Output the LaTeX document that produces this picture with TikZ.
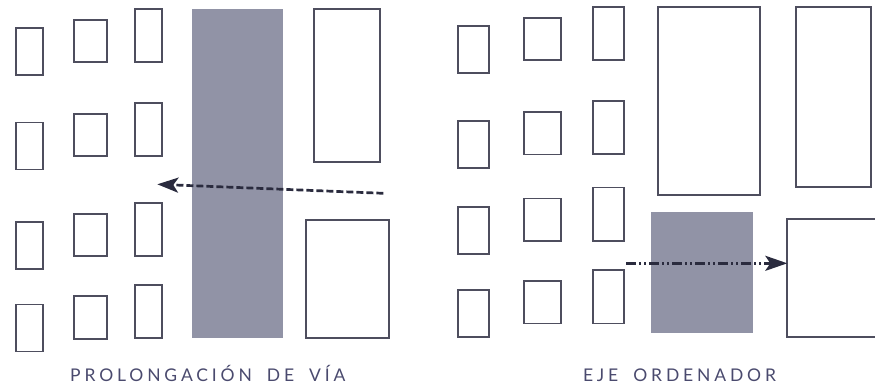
\documentclass[tikz,border=0pt]{standalone}
\usepackage{fontspec}
\newfontfamily\rotulofont[LetterSpace=22, WordSpace=1.8]{Lato}
\usepackage{xcolor}
\usetikzlibrary{arrows.meta,positioning}

\definecolor{bordeGris}{HTML}{4E4E5E}
\definecolor{rellenoGris}{HTML}{9193A6}
\definecolor{flechaOsc}{HTML}{2A2B3E}
\definecolor{textoAzul}{HTML}{4A4A6E}

\begin{document}
\begin{tikzpicture}[
  x=1pt, y=-1pt,
  >=Stealth,
  every node/.style={inner sep=0pt, outer sep=0pt},
  bloque/.style 2 args={draw=bordeGris, line width=1.8pt, fill=white,
    minimum width=#1pt, minimum height=#2pt},
  via/.style 2 args={fill=rellenoGris, minimum width=#1pt, minimum height=#2pt},
  flechaA/.style={line width=2.7pt, flechaOsc, dash pattern=on 7pt off 3pt,
    -{Stealth[length=21pt, width=15pt, inset=5pt]}},
  flechaB/.style={line width=2.7pt, flechaOsc,
    dash pattern=on 10pt off 3pt on 2pt off 3pt on 2pt off 3pt,
    -{Stealth[length=22pt, width=15pt, inset=5pt]}},
  rotulo/.style={font=\rotulofont\fontsize{17.5}{20}\selectfont, text=textoAzul, anchor=base},
]
\clip (0,0) rectangle (875,385);
% prolongacion de via
\node[bloque={27.6}{47}] (a11) at (29.5,51.8) {};
\node[bloque={27.6}{47}] (a12) at (29.5,146) {};
\node[bloque={27.6}{47}] (a13) at (29.5,245.7) {};
\node[bloque={27.6}{47}] (a14) at (29.5,328) {};
\node[bloque={33}{42.3}] (a21) at (90.5,41.2) {};
\node[bloque={33}{42.3}] (a22) at (90.5,135.2) {};
\node[bloque={33}{42.3}] (a23) at (90.5,234.8) {};
\node[bloque={33}{42.3}] (a24) at (90.5,317.5) {};
\node[bloque={26.7}{53}] (a31) at (148.7,35.5) {};
\node[bloque={26.7}{53}] (a32) at (148.7,129.3) {};
\node[bloque={26.7}{53}] (a33) at (148.7,229.2) {};
\node[bloque={26.7}{53}] (a34) at (148.7,311.5) {};
\node[via={91.3}{329.3}] (viaA) at (237.7,173.7) {};
\node[bloque={66}{153}] (altoA) at (347.3,85.5) {};
\node[bloque={82.4}{117.7}] (bajoA) at (347.5,279.2) {};
\coordinate (inicioA) at (383.3,193.3);
\coordinate (finA) at (157.3,184.3);
\draw[flechaA] (inicioA) -- (finA);
\node[rotulo] (tituloA) at (207.8,381) {PROLONGACIÓN DE VÍA};
% eje ordenador
\node[bloque={31.6}{47}] (b11) at (473.5,49.8) {};
\node[bloque={31.6}{47}] (b12) at (473.5,144.2) {};
\node[bloque={31.6}{47}] (b13) at (473.5,230.5) {};
\node[bloque={31.6}{47}] (b14) at (473.5,313.2) {};
\node[bloque={37.3}{42.5}] (b21) at (542.7,39) {};
\node[bloque={37.3}{42.5}] (b22) at (542.7,133.3) {};
\node[bloque={37.3}{42.5}] (b23) at (542.7,219.8) {};
\node[bloque={37.3}{42.5}] (b24) at (542.7,302.3) {};
\node[bloque={30.4}{53.3}] (b31) at (608.5,33.3) {};
\node[bloque={30.4}{53.3}] (b32) at (608.5,127.7) {};
\node[bloque={30.4}{53.3}] (b33) at (608.5,214.2) {};
\node[bloque={30.4}{53.3}] (b34) at (608.5,296.8) {};
\node[bloque={101.7}{188}] (grandeB) at (709.2,100.7) {};
\node[bloque={74.4}{180.6}] (altoB) at (833.5,97) {};
\node[via={101.7}{121}] (plazaB) at (701.8,272.2) {};
\node[bloque={130}{118}] (bajoB) at (852.3,278) {};
\coordinate (inicioB) at (626,263.3);
\draw[flechaB] (inicioB) -- (inicioB -| bajoB.west);
\node[rotulo] (tituloB) at (679.5,381) {EJE ORDENADOR};
\end{tikzpicture}
\end{document}
